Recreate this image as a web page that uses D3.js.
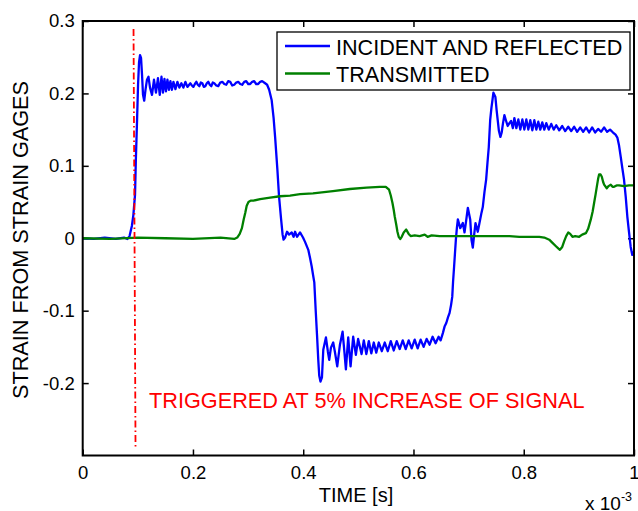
<!DOCTYPE html>
<html>
<head>
<meta charset="utf-8">
<script src="https://cdn.jsdelivr.net/npm/d3@7"></script>
<style>
  body { margin: 0; background: #fff; }
  text { font-family: "Liberation Sans", Arial, Helvetica, sans-serif; }
</style>
</head>
<body>
<svg id="chart" width="638" height="511"></svg>
<script>
// time in units of 1e-3 s, strain
var incident = [
  [0,0],[0.02,-0.001],[0.04,0.001],[0.06,-0.001],[0.075,0.001],[0.081,-0.001],[0.085,0.003],[0.0877,0.012],
  [0.0892,0.017],[0.0919,0.032],[0.0949,0.060],[0.0964,0.108],[0.0986,0.163],[0.1004,0.212],[0.1022,0.243],
  [0.1040,0.253],[0.1058,0.249],[0.1076,0.226],[0.1094,0.198],[0.1116,0.190],[0.1139,0.205],[0.1166,0.219],
  [0.1193,0.223],[0.1221,0.208],[0.1257,0.198],[0.1293,0.219],[0.1329,0.201],[0.1365,0.221],[0.1398,0.198],
  [0.1429,0.223],[0.1456,0.201],[0.1483,0.220],[0.1510,0.203],[0.1537,0.219],[0.1564,0.205],[0.1591,0.217],
  [0.1618,0.205],[0.1646,0.216],[0.1682,0.206],[0.1718,0.216],[0.1754,0.208],[0.1790,0.214],[0.1826,0.208],
  [0.1863,0.216],[0.1899,0.209],[0.1953,0.214],[0.1980,0.211],[0.2007,0.209],[0.2035,0.213],[0.2061,0.216],
  [0.2088,0.212],[0.2116,0.210],[0.2143,0.215],[0.2170,0.214],[0.2197,0.209],[0.2224,0.210],[0.2251,0.214],
  [0.2278,0.216],[0.2305,0.212],[0.2333,0.210],[0.2360,0.215],[0.2387,0.214],[0.2423,0.211],[0.2459,0.210],
  [0.2495,0.215],[0.2532,0.216],[0.2568,0.213],[0.2604,0.212],[0.2640,0.217],[0.2676,0.216],[0.2712,0.211],
  [0.2749,0.212],[0.2785,0.215],[0.2821,0.216],[0.2857,0.213],[0.2893,0.212],[0.2930,0.216],[0.2966,0.217],
  [0.3002,0.213],[0.3038,0.213],[0.3074,0.216],[0.3110,0.217],[0.3146,0.213],[0.3183,0.213],[0.3219,0.216],
  [0.3255,0.217],[0.3309,0.214],[0.3345,0.212],[0.3382,0.205],[0.3427,0.191],[0.3463,0.166],
  [0.3490,0.140],[0.3532,0.094],[0.3562,0.057],[0.3599,0.026],[0.3626,0.005],[0.3644,-0.002],[0.3671,0.001],
  [0.3707,0.009],[0.3743,0.005],[0.3792,0.008],[0.3825,0.002],[0.3852,0.009],[0.3888,0.002],[0.3942,0.008],
  [0.3996,0.001],[0.4033,-0.005],[0.4092,-0.016],[0.4123,-0.027],[0.4154,-0.039],[0.4177,-0.050],[0.4201,-0.061],
  [0.4226,-0.099],[0.4250,-0.133],[0.4273,-0.168],[0.4291,-0.190],[0.4313,-0.198],[0.4340,-0.192],[0.4364,-0.154],
  [0.4412,-0.137],[0.4448,-0.157],[0.4472,-0.168],[0.4503,-0.151],[0.4544,-0.144],[0.4575,-0.157],[0.4617,-0.177],
  [0.4666,-0.147],[0.4714,-0.129],[0.4747,-0.157],[0.4774,-0.181],[0.4816,-0.137],[0.4859,-0.177],[0.4906,-0.136],
  [0.4955,-0.161],[0.4996,-0.139],[0.5058,-0.160],[0.5099,-0.141],[0.5145,-0.160],[0.5190,-0.142],[0.5235,-0.159],
  [0.5280,-0.144],[0.5325,-0.158],[0.5371,-0.144],[0.5425,-0.156],[0.5479,-0.144],[0.5533,-0.156],[0.5588,-0.142],
  [0.5642,-0.155],[0.5696,-0.142],[0.5750,-0.153],[0.5805,-0.141],[0.5859,-0.153],[0.5913,-0.141],[0.5967,-0.152],
  [0.6022,-0.140],[0.6076,-0.152],[0.6130,-0.140],[0.6184,-0.150],[0.6239,-0.139],[0.6293,-0.147],[0.6347,-0.136],
  [0.6401,-0.145],[0.6456,-0.136],[0.6492,-0.141],[0.6533,-0.131],[0.6564,-0.122],[0.6595,-0.117],[0.6627,-0.109],
  [0.6655,-0.103],[0.6682,-0.092],[0.6703,-0.081],[0.6718,-0.060],[0.6736,-0.040],[0.6754,-0.019],[0.6769,-0.002],
  [0.6787,0.014],[0.6805,0.026],[0.6848,0.014],[0.6895,0.021],[0.6926,0.008],[0.6953,0.023],[0.6986,0.042],
  [0.7029,0.026],[0.7052,-0.002],[0.7076,-0.013],[0.7101,0.005],[0.7125,0.021],[0.7166,0.009],[0.7197,0.021],
  [0.7233,0.035],[0.7257,0.043],[0.7288,0.064],[0.7318,0.081],[0.7342,0.104],[0.7366,0.126],[0.7391,0.163],
  [0.7414,0.180],[0.7450,0.201],[0.7486,0.195],[0.7508,0.177],[0.7528,0.163],[0.7550,0.148],[0.7577,0.140],
  [0.7600,0.146],[0.7622,0.158],[0.7649,0.170],[0.7676,0.163],[0.7709,0.155],[0.7740,0.159],[0.7770,0.162],
  [0.7803,0.152],[0.7830,0.166],[0.7866,0.152],[0.7902,0.164],[0.7938,0.150],[0.7975,0.164],[0.8011,0.150],
  [0.8047,0.164],[0.8083,0.150],[0.8119,0.163],[0.8156,0.149],[0.8192,0.163],[0.8228,0.150],[0.8264,0.161],
  [0.8300,0.150],[0.8336,0.160],[0.8373,0.150],[0.8409,0.159],[0.8454,0.150],[0.8499,0.158],[0.8544,0.150],
  [0.8590,0.156],[0.8644,0.149],[0.8698,0.155],[0.8752,0.148],[0.8807,0.154],[0.8861,0.148],[0.8915,0.154],
  [0.8969,0.147],[0.9024,0.153],[0.9078,0.147],[0.9132,0.153],[0.9186,0.146],[0.9241,0.153],[0.9295,0.146],
  [0.9349,0.151],[0.9403,0.147],[0.9458,0.153],[0.9512,0.147],[0.9566,0.150],[0.9620,0.146],[0.9665,0.143],
  [0.9698,0.139],[0.9729,0.128],[0.9760,0.112],[0.9788,0.097],[0.9819,0.081],[0.9850,0.057],[0.9879,0.030],
  [0.9910,0.008],[0.9940,-0.012],[0.9969,-0.023],[0.9991,-0.018]
];

var transmitted = [
  [0,0],[0.05,-0.001],[0.1,0.001],[0.15,0],[0.2,-0.001],[0.25,0.001],[0.2749,-0.001],[0.2803,0.001],
  [0.2848,0.006],[0.2888,0.014],[0.2920,0.026],[0.2948,0.035],[0.2975,0.045],[0.3007,0.050],[0.3047,0.052],
  [0.3098,0.052],[0.3219,0.054],[0.3400,0.056],[0.3580,0.058],[0.3761,0.059],[0.3942,0.061],[0.4177,0.062],
  [0.4539,0.065],[0.4846,0.068],[0.5148,0.070],[0.5389,0.071],[0.5497,0.071],[0.5557,0.067],[0.5588,0.059],
  [0.5618,0.049],[0.5642,0.039],[0.5660,0.030],[0.5687,0.019],[0.5709,0.009],[0.5732,0.002],[0.5759,-0.001],
  [0.5787,0.002],[0.5823,0.008],[0.5868,0.012],[0.5913,0.006],[0.5949,0.003],[0.6022,0.004],[0.6112,0.003],
  [0.6203,0.005],[0.6257,0.002],[0.6329,0.004],[0.6474,0.003],[0.6655,0.003],[0.6835,0.003],[0.7016,0.003],
  [0.7197,0.003],[0.7378,0.003],[0.7559,0.003],[0.7740,0.003],[0.7920,0.002],[0.8101,0.002],[0.8282,0.002],
  [0.8373,0.001],[0.8463,-0.002],[0.8517,-0.006],[0.8584,-0.011],[0.8626,-0.014],[0.8656,-0.016],[0.8698,-0.012],
  [0.8734,-0.004],[0.8770,0.003],[0.8807,0.008],[0.8843,0.006],[0.8884,0.002],[0.8933,0.003],[0.9005,0.002],
  [0.9060,0.005],[0.9127,0.007],[0.9168,0.013],[0.9217,0.026],[0.9250,0.037],[0.9277,0.049],[0.9304,0.061],
  [0.9325,0.071],[0.9349,0.082],[0.9367,0.088],[0.9394,0.088],[0.9416,0.085],[0.9439,0.078],[0.9458,0.074],
  [0.9506,0.069],[0.9539,0.072],[0.9579,0.074],[0.9611,0.071],[0.9638,0.071],[0.9684,0.073],[0.9729,0.073],
  [0.9819,0.072],[0.9910,0.073],[0.9991,0.073]
];

var triggerLine = [[0.0922, 0.289], [0.0958, -0.288]];

var xTicks = [0, 0.2, 0.4, 0.6, 0.8, 1];
var xTickLabels = ["0", "0.2", "0.4", "0.6", "0.8", "1"];
var yTicks = [-0.2, -0.1, 0, 0.1, 0.2, 0.3];
var yTickLabels = ["-0.2", "-0.1", "0", "0.1", "0.2", "0.3"];
var legendLabels = ["INCIDENT AND REFLECTED", "TRANSMITTED"];
var seriesColors = ["#0000ff", "#008000"];

(function() {
  var svg = d3.select("#chart");
  var m = { left: 82.7, right: 634, top: 21, bottom: 455.5 };

  var x = d3.scaleLinear().domain([0, 1]).range([m.left, m.right]);
  var y = d3.scaleLinear().domain([-0.3, 0.3]).range([m.bottom, m.top]);

  var line = d3.line()
    .x(function(d) { return x(d[0]); })
    .y(function(d) { return y(d[1]); });

  var fmtX = function(d) { return xTickLabels[xTicks.indexOf(d)]; };
  var fmtY = function(d) { return yTickLabels[yTicks.indexOf(d)]; };

  // ticks point inward on all four sides, matlab style
  var axes = [
    { a: d3.axisBottom(x).tickValues(xTicks).tickFormat(fmtX).tickPadding(10), t: "translate(0," + m.bottom + ")" },
    { a: d3.axisTop(x).tickValues(xTicks).tickFormat(""), t: "translate(0," + m.top + ")" },
    { a: d3.axisLeft(y).tickValues(yTicks).tickFormat(fmtY).tickPadding(8), t: "translate(" + m.left + ",0)" },
    { a: d3.axisRight(y).tickValues(yTicks).tickFormat(""), t: "translate(" + m.right + ",0)" }
  ];

  axes.forEach(function(ax) {
    var g = svg.append("g")
      .attr("transform", ax.t)
      .call(ax.a.tickSizeInner(-6).tickSizeOuter(0));
    g.select(".domain").remove();
    g.selectAll(".tick line").attr("stroke", "#000").attr("stroke-width", 1.5);
    g.selectAll(".tick text")
      .attr("fill", "#000")
      .style("font-size", "18.5px")
      .style("font-family", "'Liberation Sans', Arial, sans-serif");
  });

  // signals
  [incident, transmitted].forEach(function(series, i) {
    svg.append("path")
      .attr("d", line(series))
      .attr("fill", "none")
      .attr("stroke", seriesColors[i])
      .attr("stroke-width", 2.3)
      .attr("stroke-linejoin", "round");
  });

  // trigger marker
  svg.append("path")
    .attr("d", line(triggerLine))
    .attr("fill", "none")
    .attr("stroke", "#ff0000")
    .attr("stroke-width", 1.8)
    .attr("stroke-dasharray", "7,3,1.5,3");

  svg.append("text")
    .attr("x", 149)
    .attr("y", 408)
    .attr("fill", "#ff0000")
    .style("font-size", "21.7px")
    .text("TRIGGERED AT 5% INCREASE OF SIGNAL");

  // axes box
  svg.append("rect")
    .attr("x", m.left).attr("y", m.top)
    .attr("width", m.right - m.left).attr("height", m.bottom - m.top)
    .attr("fill", "none")
    .attr("stroke", "#000")
    .attr("stroke-width", 2);

  // legend
  var legend = svg.append("g");
  legend.append("rect")
    .attr("x", 277).attr("y", 32)
    .attr("width", 353).attr("height", 58)
    .attr("fill", "#fff")
    .attr("stroke", "#000")
    .attr("stroke-width", 1.3);

  legendLabels.forEach(function(label, i) {
    var ly = 46 + i * 27.5;
    legend.append("line")
      .attr("x1", 285).attr("x2", 330)
      .attr("y1", ly).attr("y2", ly)
      .attr("stroke", seriesColors[i])
      .attr("stroke-width", 2.3);
    legend.append("text")
      .attr("x", 336).attr("y", ly + 8.5)
      .style("font-size", "21.6px")
      .text(label);
  });

  // axis labels
  svg.append("text")
    .attr("transform", "translate(28,240) rotate(-90)")
    .attr("text-anchor", "middle")
    .style("font-size", "21.7px")
    .text("STRAIN FROM STRAIN GAGES");

  svg.append("text")
    .attr("x", 356).attr("y", 502)
    .attr("text-anchor", "middle")
    .style("font-size", "20px")
    .text("TIME [s]");

  var mult = svg.append("text")
    .attr("x", 585).attr("y", 510)
    .style("font-size", "19px");
  mult.append("tspan").text("x 10");
  mult.append("tspan").attr("dy", -9).style("font-size", "12.5px").text("-3");
}());
</script>
</body>
</html>
